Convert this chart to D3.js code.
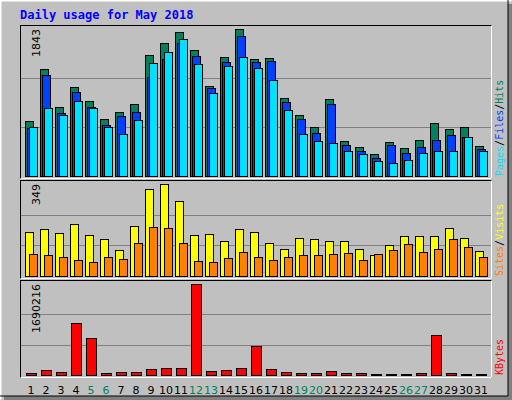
<!DOCTYPE html>
<html><head><meta charset="utf-8">
<script src="https://cdn.jsdelivr.net/npm/d3@7"></script>
<style>body{margin:0;background:#fff}svg{display:block}</style>
</head><body>
<script>
const days = d3.range(1, 32);
const weekends = [5, 6, 12, 13, 19, 20, 26, 27];
const hits = [690,1342,865,1116,940,715,803,903,1517,1668,1806,1580,1129,1492,1843,1467,1480,978,765,614,966,439,364,276,426,351,451,665,589,614,376];
const files = [602,1266,790,1053,865,640,752,803,1241,1467,1668,1505,1103,1429,1755,1429,1442,928,715,539,903,389,313,226,389,288,364,451,514,489,339];
const pages = [614,853,765,940,853,614,527,702,1417,1555,1718,1404,1041,1379,1492,1354,1204,828,527,439,414,313,276,188,163,201,288,313,313,489,313];
const sites = [167,178,163,197,156,140,99,190,330,349,285,156,159,133,178,167,125,102,144,140,133,133,102,80,118,152,152,152,182,144,95];
const visits = [83,80,72,61,53,72,64,125,186,182,125,57,53,68,91,72,61,72,80,80,83,87,61,83,99,121,91,102,140,110,72];
const kbytes = [37146,92868,55721,965800,687200,37146,55721,55721,111440,130000,130000,1690216,74300,92868,130000,538600,111440,55721,37146,37146,74300,37146,37146,18573,18573,18573,37146,742900,37146,18573,18573];

const W = 512, H = 400;
const svg = d3.select("body").append("svg").attr("width", W).attr("height", H);
const mono = "DejaVu Sans Mono, monospace";

// frame
svg.append("rect").attr("width", W).attr("height", H).attr("fill", "#c0c0c0");
svg.append("path").attr("d", `M0.5,${H-0.5}V0.5H${W-0.5}`).attr("stroke", "#fff").attr("stroke-width", 2).attr("fill", "none");
svg.append("rect").attr("x", W - 4).attr("y", 4).attr("width", 4).attr("height", H - 4).attr("fill", "#808080");
svg.append("rect").attr("x", 4).attr("y", H - 4).attr("width", W - 4).attr("height", 4).attr("fill", "#808080");
svg.append("path").attr("d", `M0,${H-4}H${W-4}V0`).attr("stroke", "#000").attr("fill", "none");

svg.append("text").attr("x", 20).attr("y", 19).attr("font-family", mono).attr("font-weight", "bold")
  .attr("font-size", 12).attr("fill", "#0000ff").text("Daily usage for May 2018");

const x = d3.scaleLinear().domain([1, 31]).range([25, 475]);

const panels = [
  { top: 25, bottom: 178, max: 1843, y0: 176, y1: 29, label: "1843",
    legend: [["Pages", "#00e0ff"], ["Files", "#0040ff"], ["Hits", "#00805c"]],
    series: [[hits, "#00805c", 0, 8], [files, "#0040ff", 2, 8], [pages, "#00e0ff", 4, 8]] },
  { top: 180, bottom: 278, max: 349, y0: 276, y1: 184, label: "349",
    legend: [["Sites", "#ff8000"], ["Visits", "#ffff00"]],
    series: [[sites, "#ffff00", 0, 8], [visits, "#ff8000", 4, 8]] },
  { top: 280, bottom: 377, max: 1690216, y0: 375, y1: 284, label: "1690216",
    legend: [["KBytes", "#ff0000"]],
    series: [[kbytes, "#ff0000", 1, 10]] }
];

panels.forEach(p => {
  const g = svg.append("g");
  const y = d3.scaleLinear().domain([0, p.max]).range([p.y0, p.y1]);
  g.append("rect").attr("x", 20.5).attr("y", p.top + 0.5).attr("width", 471).attr("height", p.bottom - p.top)
    .attr("fill", "#c0c0c0").attr("stroke", "#000");
  g.append("path").attr("d", `M20.5,${p.bottom + 0.5}H491.5V${p.top + 0.5}`).attr("stroke", "#fff").attr("fill", "none");
  [1 / 3, 2 / 3].forEach(f => {
    const yy = Math.round(y(p.max * f)) + 0.5;
    g.append("line").attr("x1", 21).attr("x2", 491).attr("y1", yy).attr("y2", yy).attr("stroke", "#808080");
  });
  p.series.forEach(([vals, col, off, w]) => {
    g.selectAll(null).data(vals).join("rect")
      .attr("x", (d, i) => x(days[i]) + off + 0.5)
      .attr("y", d => Math.round(y(d)) + 0.5)
      .attr("width", w)
      .attr("height", d => Math.max(1, p.y0 - Math.round(y(d))))
      .attr("fill", col).attr("stroke", "#000");
  });
  g.append("text").attr("transform", `translate(40,${p.y1}) rotate(-90)`).attr("text-anchor", "end")
    .attr("font-family", "DejaVu Sans, sans-serif").attr("font-size", 11).attr("fill", "#000").text(p.label);
  const t = g.append("text").attr("transform", `translate(503,${p.bottom - 2}) rotate(-90)`)
    .attr("font-family", mono).attr("font-size", 10);
  p.legend.forEach(([name, col], i) => {
    if (i > 0) t.append("tspan").attr("fill", "#000").text("/");
    t.append("tspan").attr("fill", col).text(name);
  });
});

svg.selectAll(".day").data(days).join("text")
  .attr("x", d => x(d) + 6).attr("y", 394).attr("text-anchor", "middle")
  .attr("font-family", "DejaVu Sans, sans-serif").attr("font-size", 11)
  .attr("fill", d => weekends.includes(d) ? "#00805c" : "#000").text(d => d);
</script>
</body></html>
